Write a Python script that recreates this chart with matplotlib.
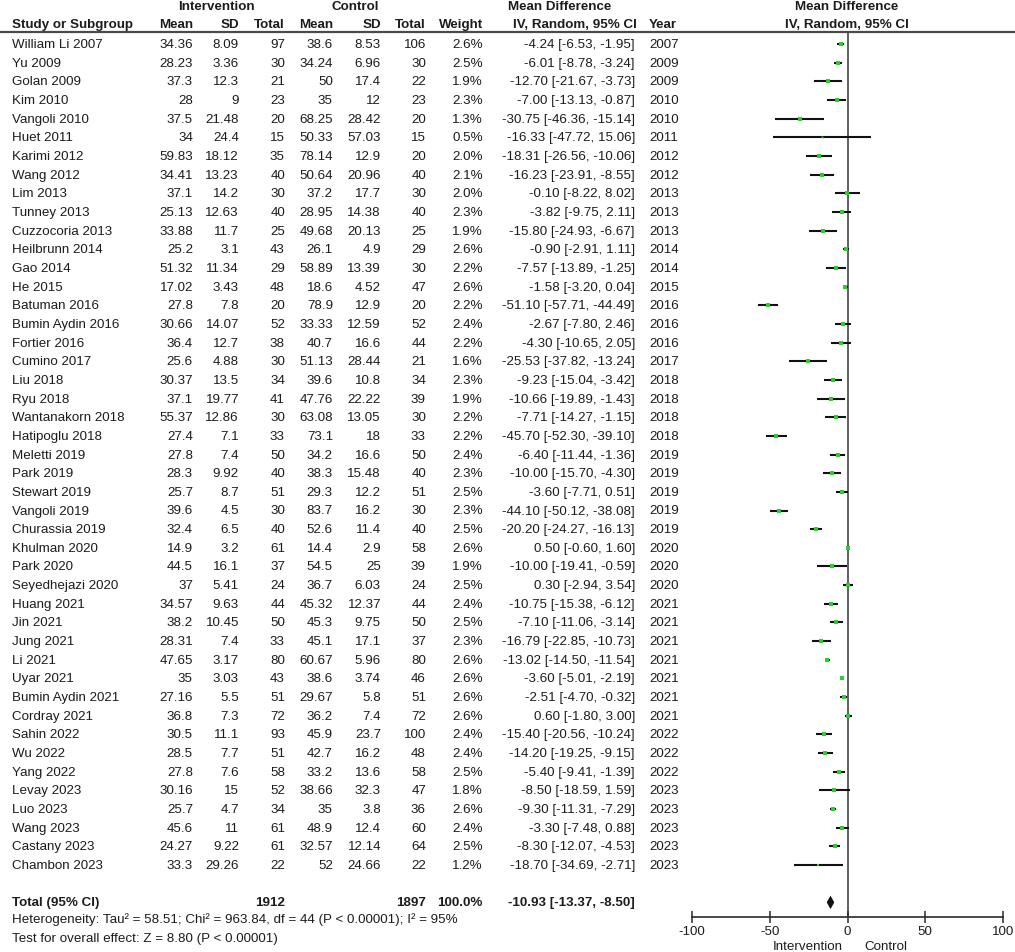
"""Forest plot: intervention vs control, mean difference (IV, random, 95% CI)."""

import matplotlib
matplotlib.use("Agg")
import matplotlib.pyplot as plt
import matplotlib.transforms as mtransforms

plt.rcParams["font.family"] = ["Liberation Sans", "DejaVu Sans"]

# ── Data ─────────────────────────────────────────────────────────────── #

studies = [
    "William Li 2007", "Yu 2009", "Golan 2009", "Kim 2010", "Vangoli 2010",
    "Huet 2011", "Karimi 2012", "Wang 2012", "Lim 2013", "Tunney 2013",
    "Cuzzocoria 2013", "Heilbrunn 2014", "Gao 2014", "He 2015", "Batuman 2016",
    "Bumin Aydin 2016", "Fortier 2016", "Cumino 2017", "Liu 2018", "Ryu 2018",
    "Wantanakorn 2018", "Hatipoglu 2018", "Meletti 2019", "Park 2019",
    "Stewart 2019", "Vangoli 2019", "Churassia 2019", "Khulman 2020",
    "Park 2020", "Seyedhejazi 2020", "Huang 2021", "Jin 2021", "Jung 2021",
    "Li 2021", "Uyar 2021", "Bumin Aydin 2021", "Cordray 2021", "Sahin 2022",
    "Wu 2022", "Yang 2022", "Levay 2023", "Luo 2023", "Wang 2023",
    "Castany 2023", "Chambon 2023",
]
int_mean = ["34.36", "28.23", "37.3", "28", "37.5", "34", "59.83", "34.41",
            "37.1", "25.13", "33.88", "25.2", "51.32", "17.02", "27.8", "30.66",
            "36.4", "25.6", "30.37", "37.1", "55.37", "27.4", "27.8", "28.3",
            "25.7", "39.6", "32.4", "14.9", "44.5", "37", "34.57", "38.2",
            "28.31", "47.65", "35", "27.16", "36.8", "30.5", "28.5", "27.8",
            "30.16", "25.7", "45.6", "24.27", "33.3"]
int_sd = ["8.09", "3.36", "12.3", "9", "21.48", "24.4", "18.12", "13.23",
          "14.2", "12.63", "11.7", "3.1", "11.34", "3.43", "7.8", "14.07",
          "12.7", "4.88", "13.5", "19.77", "12.86", "7.1", "7.4", "9.92",
          "8.7", "4.5", "6.5", "3.2", "16.1", "5.41", "9.63", "10.45", "7.4",
          "3.17", "3.03", "5.5", "7.3", "11.1", "7.7", "7.6", "15", "4.7",
          "11", "9.22", "29.26"]
int_n = [97, 30, 21, 23, 20, 15, 35, 40, 30, 40, 25, 43, 29, 48, 20, 52, 38,
         30, 34, 41, 30, 33, 50, 40, 51, 30, 40, 61, 37, 24, 44, 50, 33, 80,
         43, 51, 72, 93, 51, 58, 52, 34, 61, 61, 22]
ctl_mean = ["38.6", "34.24", "50", "35", "68.25", "50.33", "78.14", "50.64",
            "37.2", "28.95", "49.68", "26.1", "58.89", "18.6", "78.9", "33.33",
            "40.7", "51.13", "39.6", "47.76", "63.08", "73.1", "34.2", "38.3",
            "29.3", "83.7", "52.6", "14.4", "54.5", "36.7", "45.32", "45.3",
            "45.1", "60.67", "38.6", "29.67", "36.2", "45.9", "42.7", "33.2",
            "38.66", "35", "48.9", "32.57", "52"]
ctl_sd = ["8.53", "6.96", "17.4", "12", "28.42", "57.03", "12.9", "20.96",
          "17.7", "14.38", "20.13", "4.9", "13.39", "4.52", "12.9", "12.59",
          "16.6", "28.44", "10.8", "22.22", "13.05", "18", "16.6", "15.48",
          "12.2", "16.2", "11.4", "2.9", "25", "6.03", "12.37", "9.75", "17.1",
          "5.96", "3.74", "5.8", "7.4", "23.7", "16.2", "13.6", "32.3", "3.8",
          "12.4", "12.14", "24.66"]
ctl_n = [106, 30, 22, 23, 20, 15, 20, 40, 30, 40, 25, 29, 30, 47, 20, 52, 44,
         21, 34, 39, 30, 33, 50, 40, 51, 30, 40, 58, 39, 24, 44, 50, 37, 80,
         46, 51, 72, 100, 48, 58, 47, 36, 60, 64, 22]
weight = [2.6, 2.5, 1.9, 2.3, 1.3, 0.5, 2.0, 2.1, 2.0, 2.3, 1.9, 2.6, 2.2, 2.6,
          2.2, 2.4, 2.2, 1.6, 2.3, 1.9, 2.2, 2.2, 2.4, 2.3, 2.5, 2.3, 2.5, 2.6,
          1.9, 2.5, 2.4, 2.5, 2.3, 2.6, 2.6, 2.6, 2.6, 2.4, 2.4, 2.5, 1.8, 2.6,
          2.4, 2.5, 1.2]
md = [-4.24, -6.01, -12.70, -7.00, -30.75, -16.33, -18.31, -16.23, -0.10,
      -3.82, -15.80, -0.90, -7.57, -1.58, -51.10, -2.67, -4.30, -25.53, -9.23,
      -10.66, -7.71, -45.70, -6.40, -10.00, -3.60, -44.10, -20.20, 0.50,
      -10.00, 0.30, -10.75, -7.10, -16.79, -13.02, -3.60, -2.51, 0.60, -15.40,
      -14.20, -5.40, -8.50, -9.30, -3.30, -8.30, -18.70]
ci_lo = [-6.53, -8.78, -21.67, -13.13, -46.36, -47.72, -26.56, -23.91, -8.22,
         -9.75, -24.93, -2.91, -13.89, -3.20, -57.71, -7.80, -10.65, -37.82,
         -15.04, -19.89, -14.27, -52.30, -11.44, -15.70, -7.71, -50.12, -24.27,
         -0.60, -19.41, -2.94, -15.38, -11.06, -22.85, -14.50, -5.01, -4.70,
         -1.80, -20.56, -19.25, -9.41, -18.59, -11.31, -7.48, -12.07, -34.69]
ci_hi = [-1.95, -3.24, -3.73, -0.87, -15.14, 15.06, -10.06, -8.55, 8.02, 2.11,
         -6.67, 1.11, -1.25, 0.04, -44.49, 2.46, 2.05, -13.24, -3.42, -1.43,
         -1.15, -39.10, -1.36, -4.30, 0.51, -38.08, -16.13, 1.60, -0.59, 3.54,
         -6.12, -3.14, -10.73, -11.54, -2.19, -0.32, 3.00, -10.24, -9.15,
         -1.39, 1.59, -7.29, 0.88, -4.53, -2.71]
years = [2007, 2009, 2009, 2010, 2010, 2011, 2012, 2012, 2013, 2013, 2013,
         2014, 2014, 2015, 2016, 2016, 2016, 2017, 2018, 2018, 2018, 2018,
         2019, 2019, 2019, 2019, 2019, 2020, 2020, 2020, 2021, 2021, 2021,
         2021, 2021, 2021, 2021, 2022, 2022, 2022, 2023, 2023, 2023, 2023, 2023]

total_int_n = 1912
total_ctl_n = 1897
total_md = -10.93
total_lo = -13.37
total_hi = -8.50
heterogeneity = ("Heterogeneity: Tau\u00b2 = 58.51; Chi\u00b2 = 963.84, df = 44 "
                 "(P < 0.00001); I\u00b2 = 95%")
overall_effect = "Test for overall effect: Z = 8.80 (P < 0.00001)"
x_ticks = [-100, -50, 0, 50, 100]

# ── Layout (pixels) ──────────────────────────────────────────────────── #

W, H = 1015, 953
ROW0, ROWH = 45.0, 18.66
TOTAL_ROW = len(studies) + 1
TXT = "#1c1c1c"
FS = 9.6


def row_y(r):
    return ROW0 + r * ROWH


fig = plt.figure(figsize=(W / 100, H / 100), dpi=100)
ax_txt = fig.add_axes([0, 0, 1, 1])
ax_txt.set_xlim(0, W)
ax_txt.set_ylim(H, 0)
ax_txt.axis("off")

# header
bold = dict(fontsize=FS, fontweight="bold", color=TXT, va="center")
ax_txt.text(216, 7, "Intervention", ha="center", **bold)
ax_txt.text(355, 7, "Control", ha="center", **bold)
ax_txt.text(560, 7, "Mean Difference", ha="center", **bold)
ax_txt.text(847, 7, "Mean Difference", ha="center", **bold)
ax_txt.text(12, 25, "Study or Subgroup", ha="left", **bold)
for x, s in [(193, "Mean"), (239, "SD"), (285, "Total"), (333, "Mean"),
             (381, "SD"), (426, "Total"), (483, "Weight"),
             (637, "IV, Random, 95% CI")]:
    ax_txt.text(x, 25, s, ha="right", **bold)
ax_txt.text(649, 25, "Year", ha="left", **bold)
ax_txt.text(847, 25, "IV, Random, 95% CI", ha="center", **bold)
ax_txt.plot([0, W], [33, 33], color="#4a4a4a", lw=1.6, solid_capstyle="butt")

# study rows
norm = dict(fontsize=FS, color=TXT, va="center")
for i, name in enumerate(studies):
    y = row_y(i)
    ax_txt.text(12, y, name, ha="left", **norm)
    cols = [(193, int_mean[i]), (239, int_sd[i]), (285, str(int_n[i])),
            (333, ctl_mean[i]), (381, ctl_sd[i]), (426, str(ctl_n[i])),
            (483, f"{weight[i]:.1f}%"),
            (635, f"{md[i]:.2f} [{ci_lo[i]:.2f}, {ci_hi[i]:.2f}]")]
    for x, s in cols:
        ax_txt.text(x, y, s, ha="right", **norm)
    ax_txt.text(649, y, str(years[i]), ha="left", **norm)

# total row and footer
yt = row_y(TOTAL_ROW)
ax_txt.text(12, yt, "Total (95% CI)", ha="left", **bold)
ax_txt.text(285, yt, str(total_int_n), ha="right", **bold)
ax_txt.text(426, yt, str(total_ctl_n), ha="right", **bold)
ax_txt.text(483, yt, "100.0%", ha="right", **bold)
ax_txt.text(635, yt, f"{total_md:.2f} [{total_lo:.2f}, {total_hi:.2f}]",
            ha="right", **bold)
ax_txt.text(12, 920, heterogeneity, ha="left", **norm)
ax_txt.text(12, 939, overall_effect, ha="left", **norm)

# ── Forest panel ─────────────────────────────────────────────────────── #

X0, X1, Y_TOP, Y_AX = 692, 1003, 33, 918
ax = fig.add_axes([X0 / W, (H - Y_AX) / H, (X1 - X0) / W, (Y_AX - Y_TOP) / H])
ax.set_xlim(-100, 100)
ax.set_ylim((Y_AX - ROW0) / ROWH, (Y_TOP - ROW0) / ROWH)
ax.patch.set_alpha(0)
for side in ("top", "right", "left"):
    ax.spines[side].set_visible(False)
ax.spines["bottom"].set_color("#2a2a2a")
ax.spines["bottom"].set_linewidth(1.2)
ax.set_yticks([])
ax.set_xticks(x_ticks)
ax.set_xticklabels([str(t) for t in x_ticks])
ax.tick_params(axis="x", direction="inout", length=9, width=1.1,
               color="#2a2a2a", labelsize=FS, labelcolor=TXT, pad=1)

ax.axvline(0, color="#444444", lw=1.2, zorder=1)

for i in range(len(studies)):
    ax.plot([ci_lo[i], ci_hi[i]], [i, i], color="#111111", lw=1.5,
            solid_capstyle="butt", zorder=2)
    ax.plot(md[i], i, marker="s", color="#2ecc2e", markeredgewidth=0,
            markersize=1.9 * weight[i] ** 0.5, zorder=3)

ax.fill([total_lo, total_md, total_hi, total_md],
        [TOTAL_ROW, TOTAL_ROW - 0.36, TOTAL_ROW, TOTAL_ROW + 0.36],
        color="#111111", lw=0, zorder=3)

lab = mtransforms.blended_transform_factory(ax.transData, fig.transFigure)
ax.text(-3, (H - 947) / H, "Intervention", transform=lab, ha="right",
        va="center", fontsize=FS, color=TXT)
ax.text(11, (H - 947) / H, "Control", transform=lab, ha="left",
        va="center", fontsize=FS, color=TXT)

fig.savefig("out.png", dpi=100)
